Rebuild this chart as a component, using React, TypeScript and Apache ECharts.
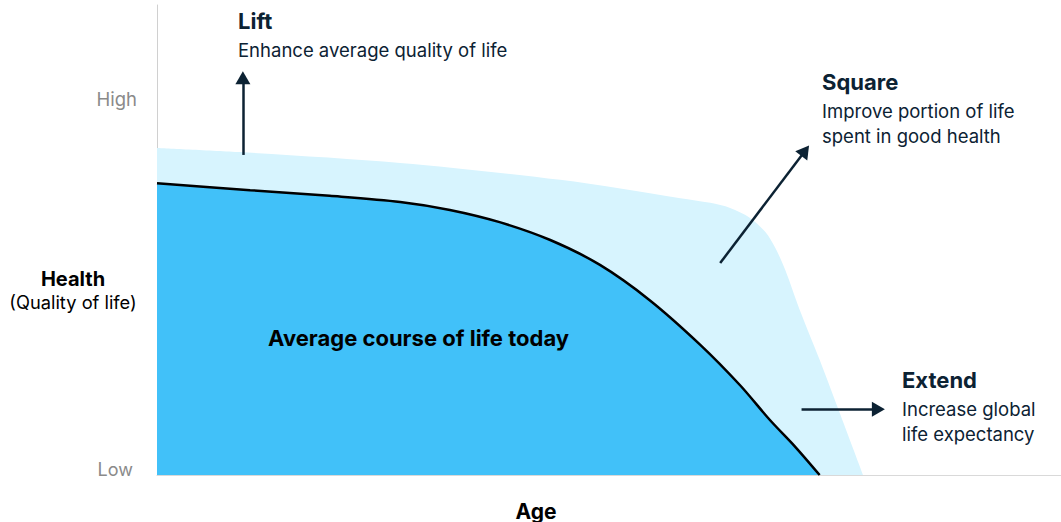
import React, { useEffect, useRef } from "react";
import * as echarts from "echarts";

// Age scale 0..100 (arbitrary), health scale 0..100 (Low..High)
const avgAge = [0, 10.3, 19.1, 26.9, 32.4, 37.9, 43.5, 49.0, 54.5, 60.1, 64.5, 67.8, 70.6, 73.3];
const avgHealth = [62.1, 60.6, 59.4, 58.1, 56.4, 53.8, 50.0, 44.7, 37.2, 27.7, 19.1, 11.7, 6.0, 0];

const idealAge = [0, 9.2, 26.9, 44.6, 57.9, 61.2, 63.4, 65.6, 67.3, 68.4, 69.5, 71.1, 73.3, 75.6, 78.1];
const idealHealth = [69.6, 68.7, 66.4, 62.8, 58.9, 57.9, 56.8, 54.7, 51.7, 48.3, 43.6, 35.1, 24.5, 12.8, 0];

const yTickValues = [0, 80];
const yTickLabels = ["Low", "High"];

// arrows: [fromAge, fromHealth, toAge, toHealth]
const liftArrow = [9.5, 68.1, 9.5, 84.5];
const squareArrow = [62.3, 45.1, 71.7, 69.0];
const extendArrow = [71.3, 14.0, 79.8, 14.0];

const NAVY = "#0c2233";
const FONT = "Inter, 'Noto Sans', sans-serif";

export default function App() {
  const ref = useRef<HTMLDivElement>(null);
  useEffect(() => {
    document.body.style.margin = "0";
    const chart = echarts.init(ref.current!, null, { renderer: "svg" });
    const arrow = (a: number[]) => [{ coord: [a[0], a[1]] }, { coord: [a[2], a[3]] }];
    const txt = (x: number, y: number, text: string, font: string, fill: string, align = "left") => ({
      type: "text",
      x,
      y,
      z: 100,
      silent: true,
      style: { text, font, fill, align, verticalAlign: "middle" },
    });
    chart.setOption({
      animation: false,
      grid: { left: 157, right: 0, top: 5, bottom: 47 },
      xAxis: {
        type: "value",
        min: 0,
        max: 100,
        axisLine: { show: true, lineStyle: { color: "#d9d9d9", width: 1 } },
        axisTick: { show: false },
        axisLabel: { show: false },
        splitLine: { show: false },
      },
      yAxis: {
        type: "value",
        min: 0,
        max: 100,
        interval: 20,
        axisLine: { show: true, lineStyle: { color: "#d0d0d0", width: 1 } },
        axisTick: { show: false },
        splitLine: { show: false },
        axisLabel: {
          margin: 20,
          formatter: (v: number) => {
            const i = yTickValues.indexOf(v);
            if (i < 0) return "";
            return i === 0 ? "{low|" + yTickLabels[i] + "}" : "{high|" + yTickLabels[i] + "}";
          },
          rich: {
            low: { fontFamily: FONT, fontSize: 18, color: "#8a8a8a", padding: [0, 4, 12, 0] },
            high: { fontFamily: FONT, fontSize: 18.5, color: "#8a8a8a" },
          },
        },
      },
      series: [
        {
          type: "line",
          data: idealAge.map((x, i) => [x, idealHealth[i]]),
          smooth: 0.3,
          symbol: "none",
          lineStyle: { width: 0, opacity: 0 },
          areaStyle: { color: "#d7f4fe", opacity: 1 },
          silent: true,
          z: 1,
        },
        {
          type: "line",
          data: avgAge.map((x, i) => [x, avgHealth[i]]),
          smooth: 0.3,
          symbol: "none",
          lineStyle: { width: 2.5, color: "#000000" },
          areaStyle: { color: "#41c1f9", opacity: 1 },
          silent: true,
          z: 2,
        },
        {
          type: "line",
          data: [],
          z: 3,
          markLine: {
            silent: true,
            symbol: ["none", "triangle"],
            symbolSize: [15, 13],
            label: { show: false },
            lineStyle: { color: NAVY, width: 2.5, type: "solid" },
            emphasis: { disabled: true },
            data: [arrow(liftArrow), arrow(squareArrow), arrow(extendArrow)],
          },
        },
      ],
      graphic: [
        txt(238, 21, "Lift", `bold 22px ${FONT}`, NAVY),
        txt(238, 50, "Enhance average quality of life", `18.5px ${FONT}`, NAVY),
        txt(822, 82, "Square", `bold 22px ${FONT}`, NAVY),
        txt(822, 111, "Improve portion of life", `18.5px ${FONT}`, NAVY),
        txt(822, 136, "spent in good health", `18.5px ${FONT}`, NAVY),
        txt(902, 380, "Extend", `bold 22px ${FONT}`, NAVY),
        txt(902, 409, "Increase global", `18.5px ${FONT}`, NAVY),
        txt(902, 434, "life expectancy", `18.5px ${FONT}`, NAVY),
        txt(268, 338, "Average course of life today", `bold 22px ${FONT}`, "#000000"),
        txt(73, 279, "Health", `bold 20px ${FONT}`, "#000000", "center"),
        txt(73, 302, "(Quality of life)", `18.3px ${FONT}`, "#000000", "center"),
        txt(536, 511, "Age", `bold 21px ${FONT}`, "#000000", "center"),
      ],
    });
    return () => chart.dispose();
  }, []);
  return <div ref={ref} style={{ width: 1061, height: 522 }} />;
}
